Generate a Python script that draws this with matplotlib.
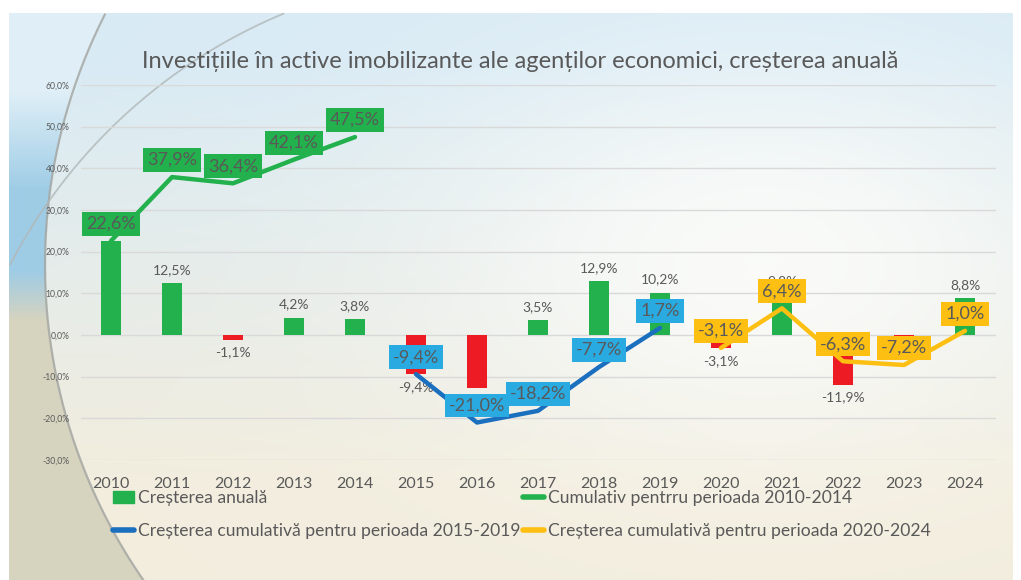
import numpy as np
import matplotlib
matplotlib.use("Agg")
import matplotlib.pyplot as plt
from matplotlib.patches import Patch
from matplotlib.lines import Line2D

# ---------------- data ----------------
years = [str(y) for y in range(2010, 2025)]
annual = [22.6, 12.5, -1.1, 4.2, 3.8, -9.4, -12.8, 3.5, 12.9, 10.2, -3.1, 9.8, -11.9, -1.0, 8.8]
cum_2010_2014 = [22.6, 37.9, 36.4, 42.1, 47.5]
cum_2015_2019 = [-9.4, -21.0, -18.2, -7.7, 1.7]
cum_2020_2024 = [-3.1, 6.4, -6.3, -7.2, 1.0]
yticks = [-30, -20, -10, 0, 10, 20, 30, 40, 50, 60]

title = "Investițiile în active imobilizante ale agenților economici, creșterea anuală"
legend_labels = ["Creșterea anuală",
                 "Creșterea cumulativă pentru perioada 2015-2019",
                 "Cumulativ pentrru perioada 2010-2014",
                 "Creșterea cumulativă pentru perioada 2020-2024"]

# ---------------- style ----------------
GREEN = "#22b14c"
RED = "#ed1c24"
BLUE_LINE = "#1b6fbf"
BLUE_BOX = "#29abe2"
YELLOW = "#fdbf12"
TXT = "#595959"
FONT = ["Lato", "DejaVu Sans"]
plt.rcParams["font.family"] = FONT

W, H = 1021, 580
fig = plt.figure(figsize=(W / 100, H / 100), dpi=100)

# ---------------- background ----------------
bg = fig.add_axes([0, 0, 1, 1], zorder=-10)
yy, xx = np.mgrid[0:H, 0:W].astype(float)
t = np.clip((yy - 60) / (H - 160), 0, 1)[..., None]
top = np.array([0.85, 0.92, 0.96])
bot = np.array([0.95, 0.93, 0.87])
img = top * (1 - t) + bot * t
# whiten the right / middle area
wfac = np.exp(-(((xx - 760) / 330) ** 2 + ((yy - 260) / 200) ** 2))[..., None]
img = img * (1 - 0.85 * wfac) + np.array([0.995, 0.995, 0.985]) * 0.85 * wfac
# left-of-arc region
cx, cy, R = 599, 265, 554
outside = ((xx - cx) ** 2 + (yy - cy) ** 2 > R ** 2) & (xx < cx)
ty = yy[..., None]
blue_l = np.array([0.62, 0.80, 0.90])
pale_l = np.array([0.88, 0.94, 0.97])
beige_l = np.array([0.84, 0.83, 0.75])
f1 = np.clip((ty - 90) / 100, 0, 1)
f2 = np.clip((ty - 270) / 50, 0, 1)
leftcol = pale_l * (1 - f1) + blue_l * f1
leftcol = leftcol * (1 - f2) + beige_l * f2
img = np.where(outside[..., None], leftcol, img)
# white frame
img[:13, :] = 1.0
img[:, :9] = 1.0
img[:, 1012:] = 1.0
bg.imshow(img, extent=[0, W, H, 0], aspect="auto", interpolation="bilinear")
ang = np.linspace(0, 2 * np.pi, 1200)
ax_ = cx + R * np.cos(ang)
ay_ = cy + R * np.sin(ang)
m = (ax_ > 9) & (ay_ > 13) & (ax_ < 300)
bg.plot(np.where(m, ax_, np.nan), ay_, color="#a6a8a4", lw=1.6, alpha=0.85)
cx2, cy2, R2 = 492, 515, 543
bx_ = cx2 + R2 * np.cos(ang)
by_ = cy2 + R2 * np.sin(ang)
m2 = (bx_ > 9) & (by_ > 13) & (by_ < 300) & (bx_ < 300)
bg.plot(np.where(m2, bx_, np.nan), by_, color="#b0b8b8", lw=1.3, alpha=0.8)
bg.set_xlim(0, W)
bg.set_ylim(H, 0)
bg.axis("off")

# ---------------- main axes ----------------
L, Rr = 80.5 / W, 995.5 / W
B, T = (H - 460) / H, (H - 85) / H
ax = fig.add_axes([L, B, Rr - L, T - B])
ax.patch.set_alpha(0)
x = np.arange(len(years))
ax.set_xlim(-0.5, len(years) - 0.5)
ax.set_ylim(-30, 60)
ax.set_yticks(yticks)
ax.set_yticklabels([f"{v:.1f}%".replace(".", ",") for v in yticks], fontsize=6.2, color=TXT)
ax.set_xticks(x)
ax.set_xticklabels(years, fontsize=11.5, color=TXT)
ax.tick_params(axis="both", length=0)
ax.tick_params(axis="x", pad=12)
ax.tick_params(axis="y", pad=8)
for s in ax.spines.values():
    s.set_visible(False)
ax.grid(axis="y", color="#d9d9d9", lw=1)
ax.set_axisbelow(True)

colors = [GREEN if v >= 0 else RED for v in annual]
bars = ax.bar(x, annual, width=0.32, color=colors, zorder=2)
for xi, v in zip(x, annual):
    ax.annotate(f"{v:.1f}%".replace(".", ","), (xi, v), xytext=(0, 5 if v >= 0 else -5),
                textcoords="offset points", ha="center", va="bottom" if v >= 0 else "top",
                fontsize=10, color=TXT, zorder=3)

def cum_series(xs, vals, lc, bc):
    ax.plot(xs, vals, color=lc, lw=3.2, solid_capstyle="round", zorder=4)
    for xi, v in zip(xs, vals):
        ax.annotate(f"{v:.1f}%".replace(".", ","), (xi, v), xytext=(0, 6.5),
                    textcoords="offset points", ha="center", va="bottom",
                    fontsize=13, color=TXT, zorder=5,
                    bbox=dict(boxstyle="square,pad=0.22", fc=bc, ec="none"))

cum_series(x[0:5], cum_2010_2014, GREEN, GREEN)
cum_series(x[5:10], cum_2015_2019, BLUE_LINE, BLUE_BOX)
cum_series(x[10:15], cum_2020_2024, YELLOW, YELLOW)

fig.text(0.509, 1 - 62 / H, title, ha="center", va="center", fontsize=17, color=TXT)

handles = [Patch(color=GREEN),
           Line2D([], [], color=BLUE_LINE, lw=4, solid_capstyle="round"),
           Line2D([], [], color=GREEN, lw=4, solid_capstyle="round"),
           Line2D([], [], color=YELLOW, lw=4, solid_capstyle="round")]
leg = fig.legend(handles, legend_labels, ncol=2, loc="upper left",
                 bbox_to_anchor=(113 / W, 1 - 490 / H), frameon=False,
                 fontsize=12.6, labelcolor=TXT, handlelength=1.2, handletextpad=0.22,
                 columnspacing=0.17, labelspacing=0.95, borderaxespad=0, borderpad=0)

fig.savefig("out.png", dpi=100)
